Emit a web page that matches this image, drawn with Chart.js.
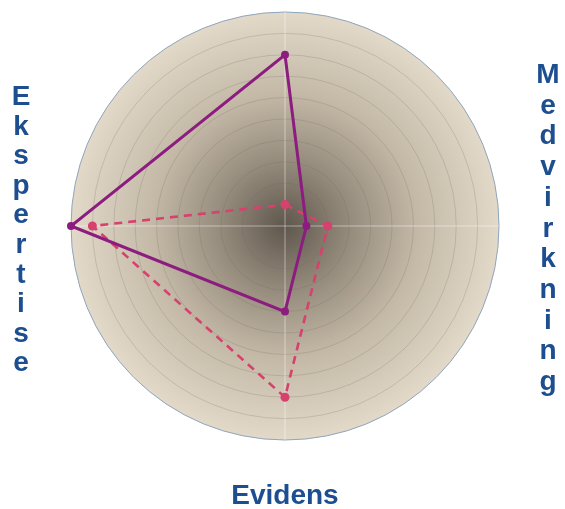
<!DOCTYPE html>
<html>
<head>
<meta charset="utf-8">
<script src="https://cdn.jsdelivr.net/npm/chart.js@4"></script>
<style>
  html, body { margin: 0; padding: 0; background: #fff; }
  canvas { display: block; }
</style>
</head>
<body>
<canvas id="radar" width="565" height="509"></canvas>
<script>
/* Radar: Ekspertise / Medvirkning / Evidens */

const categories = ["", "Medvirkning", "Evidens", "Ekspertise"];
const solidValues = [8, 1, 4, 10];
const dashedValues = [1, 2, 8, 9];
const scaleMin = 0;
const scaleMax = 10;
const scaleStep = 1;

const LABEL_COLOR = "#1c4e90";
const LABEL_FONT = "bold 28px 'Liberation Sans', Arial, sans-serif";

// radial gradient disc behind the grid
const discBackground = {
  id: "discBackground",
  beforeDraw(chart) {
    const r = chart.scales.r;
    const ctx = chart.ctx;
    const g = ctx.createRadialGradient(r.xCenter, r.yCenter, 0, r.xCenter, r.yCenter, r.drawingArea);
    g.addColorStop(0, "#5f564d");
    g.addColorStop(0.3, "#958b7c");
    g.addColorStop(0.62, "#c4b9a7");
    g.addColorStop(1, "#e2d9c9");
    ctx.save();
    ctx.beginPath();
    ctx.arc(r.xCenter, r.yCenter, r.drawingArea, 0, Math.PI * 2);
    ctx.fillStyle = g;
    ctx.fill();
    ctx.restore();
  },
};

// axis titles: left and right ones are stacked letter by letter
const axisTitles = {
  id: "axisTitles",
  afterDraw(chart) {
    const r = chart.scales.r;
    const ctx = chart.ctx;
    const R = r.drawingArea;
    ctx.save();
    ctx.fillStyle = LABEL_COLOR;
    ctx.font = LABEL_FONT;
    ctx.textAlign = "center";
    ctx.textBaseline = "alphabetic";

    const place = [
      null,
      { x: r.xCenter + R + 49, y: r.yCenter - 143, lh: 30.7, vertical: true },
      { x: r.xCenter, y: r.yCenter + R + 64, vertical: false },
      { x: r.xCenter - R - 50, y: r.yCenter - 121, lh: 29.6, vertical: true },
    ];

    categories.forEach((label, i) => {
      const p = place[i];
      if (!label || !p) return;
      if (p.vertical) {
        label.split("").forEach((ch, k) => ctx.fillText(ch, p.x, p.y + k * p.lh));
      } else {
        ctx.fillText(label, p.x, p.y);
      }
    });
    ctx.restore();
  },
};

new Chart(document.getElementById("radar"), {
  type: "radar",
  data: {
    labels: categories,
    datasets: [
      {
        data: solidValues,
        borderColor: "#8c1c7f",
        backgroundColor: "#8c1c7f",
        borderWidth: 3,
        pointRadius: 4,
        pointBorderWidth: 0,
        pointBackgroundColor: "#8c1c7f",
        fill: false,
        tension: 0,
      },
      {
        data: dashedValues,
        borderColor: "#d6416d",
        backgroundColor: "#d6416d",
        borderWidth: 2.6,
        borderDash: [8, 6],
        pointRadius: 4.5,
        pointBorderWidth: 0,
        pointBackgroundColor: "#d6416d",
        fill: false,
        tension: 0,
      },
    ],
  },
  options: {
    responsive: false,
    devicePixelRatio: 1,
    animation: false,
    layout: { padding: { top: 12, bottom: 69, left: 6, right: 0 } },
    plugins: { legend: { display: false }, tooltip: { enabled: false } },
    scales: {
      r: {
        min: scaleMin,
        max: scaleMax,
        ticks: { stepSize: scaleStep, display: false },
        pointLabels: { display: false },
        angleLines: { color: "rgba(255,255,255,0.45)", lineWidth: 1 },
        grid: {
          circular: true,
          color: (c) => (c.index === 10 ? "#8fa5bc" : "rgba(110,100,90,0.22)"),
          lineWidth: 1,
        },
      },
    },
  },
  plugins: [discBackground, axisTitles],
});
</script>
</body>
</html>
